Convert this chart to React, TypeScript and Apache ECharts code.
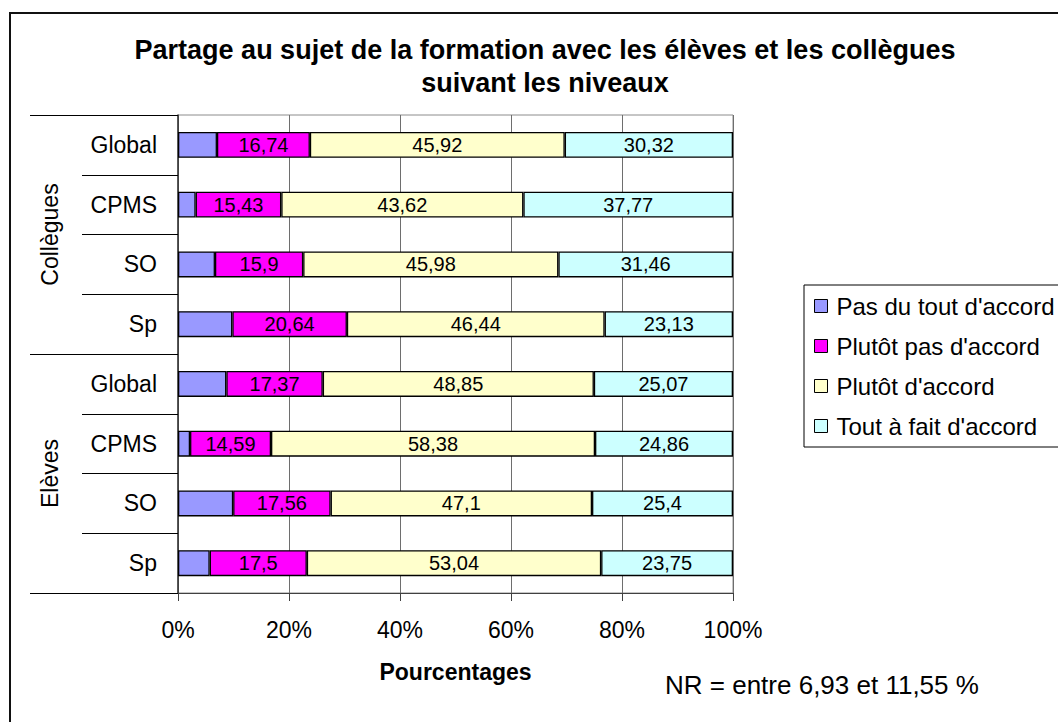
import React, { useEffect, useRef } from "react";
import * as echarts from "echarts";

const groups = ["Collègues", "Elèves"];
const levels = ["Global", "CPMS", "SO", "Sp"];
const seriesNames = ["Pas du tout d'accord", "Plutôt pas d'accord", "Plutôt d'accord", "Tout à fait d'accord"];
const seriesColors = ["#9999FF", "#FF00FF", "#FFFFCC", "#CCFFFF"];
// values, top to bottom: Collègues Global, CPMS, SO, Sp, Elèves Global, CPMS, SO, Sp
const pasDuTout = [7.02, 3.18, 6.66, 9.79, 8.71, 2.17, 9.94, 5.71];
const plutotPas = [16.74, 15.43, 15.9, 20.64, 17.37, 14.59, 17.56, 17.5];
const plutotAccord = [45.92, 43.62, 45.98, 46.44, 48.85, 58.38, 47.1, 53.04];
const toutAFait = [30.32, 37.77, 31.46, 23.13, 25.07, 24.86, 25.4, 23.75];
const xTicks = [0, 20, 40, 60, 80, 100];
const titleLines = ["Partage au sujet de la formation avec les élèves et les collègues", "suivant les niveaux"];
const xName = "Pourcentages";
const noteText = "NR = entre 6,93 et 11,55 %";

const FONT = '"Liberation Sans", Arial, sans-serif';

export default function App() {
  const ref = useRef<HTMLDivElement>(null);
  useEffect(() => {
    if (!ref.current) return;
    const chart = echarts.init(ref.current, null, { renderer: "svg" });
    const categories: string[] = [];
    groups.forEach((g) => levels.forEach((l) => categories.push(g + "|" + l)));
    const allValues = [pasDuTout, plutotPas, plutotAccord, toutAFait];
    const series = allValues.map((vals, i) => ({
      name: seriesNames[i],
      type: "bar",
      stack: "total",
      yAxisIndex: 0,
      barWidth: 26,
      data: vals,
      itemStyle: { color: seriesColors[i], borderColor: "#000", borderWidth: 1.3 },
      label: {
        show: i > 0,
        position: "inside",
        color: "#000",
        fontFamily: FONT,
        fontSize: 20,
        formatter: (p: any) => String(p.value).replace(".", ","),
      },
    }));
    chart.setOption({
      animation: false,
      backgroundColor: "#fff",
      textStyle: { fontFamily: FONT },
      title: {
        text: titleLines.join("\n"),
        left: 545,
        top: 33,
        textAlign: "center",
        padding: 0,
        textStyle: { fontFamily: FONT, fontSize: 27, fontWeight: "bold", color: "#000", lineHeight: 33 },
      },
      legend: {
        orient: "vertical",
        left: 804,
        top: 285,
        padding: [9, 40, 9, 10],
        itemGap: 16,
        itemWidth: 13,
        itemHeight: 13,
        icon: "rect",
        borderColor: "#000",
        borderWidth: 1,
        backgroundColor: "#fff",
        itemStyle: { borderColor: "#000", borderWidth: 1 },
        textStyle: { fontFamily: FONT, fontSize: 24, color: "#000", padding: [0, 0, 0, 4] },
        data: seriesNames,
      },
      grid: {
        left: 178,
        right: 325,
        top: 115,
        bottom: 129,
        show: true,
        borderColor: "#8c8c8c",
        borderWidth: 1,
        containLabel: false,
      },
      xAxis: {
        type: "value",
        min: xTicks[0],
        max: xTicks[xTicks.length - 1],
        interval: xTicks[1] - xTicks[0],
        axisLine: { show: true, lineStyle: { color: "#404040", width: 1 } },
        axisTick: { show: true, length: 8, lineStyle: { color: "#404040" } },
        splitLine: { show: true, lineStyle: { color: "#6e6e6e", width: 1 } },
        axisLabel: {
          formatter: "{value}%",
          fontFamily: FONT,
          fontSize: 23,
          color: "#000",
          margin: 25,
        },
        name: xName,
        nameLocation: "middle",
        nameGap: 79,
        nameTextStyle: { fontFamily: FONT, fontSize: 23, fontWeight: "bold", color: "#000", verticalAlign: "middle" },
      },
      yAxis: [
        {
          type: "category",
          inverse: true,
          data: categories,
          axisLine: { show: true, lineStyle: { color: "#333", width: 1.5 } },
          axisTick: { show: true, length: 96, lineStyle: { color: "#000", width: 1 } },
          axisLabel: {
            formatter: (v: string) => v.split("|")[1],
            fontFamily: FONT,
            fontSize: 23,
            color: "#000",
            margin: 21,
          },
        },
        {
          type: "category",
          inverse: true,
          position: "left",
          data: groups,
          axisLine: { show: false },
          axisTick: { show: true, length: 148, lineStyle: { color: "#000", width: 1 } },
          axisLabel: {
            rotate: 90,
            fontFamily: FONT,
            fontSize: 23,
            color: "#000",
            margin: 117,
          },
        },
      ],
      graphic: [
        {
          type: "rect",
          shape: { x: 10, y: 13, width: 1200, height: 900 },
          style: { fill: "none", stroke: "#111", lineWidth: 2 },
          silent: true,
        },
        {
          type: "text",
          left: 665,
          top: 672,
          style: { text: noteText, fontFamily: FONT, fontSize: 26, fill: "#000" },
        },
      ],
      series,
    });
    return () => chart.dispose();
  }, []);
  return <div ref={ref} style={{ position: "absolute", left: 0, top: 0, width: 1058, height: 722 }} />;
}
